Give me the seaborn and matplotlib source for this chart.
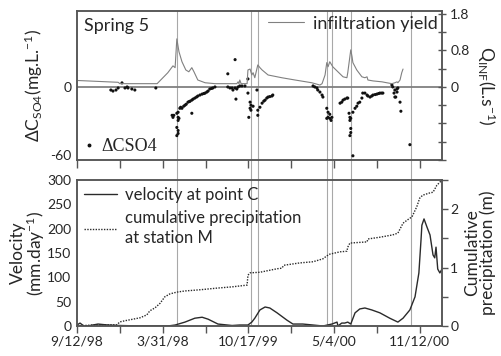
import numpy as np
import pandas as pd
import matplotlib
matplotlib.use("Agg")
import matplotlib.pyplot as plt
import seaborn as sns
from matplotlib.lines import Line2D

sns.set_style("ticks")
plt.rcParams["font.family"] = ["Lato", "DejaVu Sans"]
plt.rcParams["mathtext.fontset"] = "custom"
plt.rcParams["mathtext.rm"] = "Lato"
plt.rcParams["mathtext.it"] = "Lato:italic"

# ---------------- data (x = days since 9/12/98) ----------------
x_tick_days = [0, 100, 200, 300, 400, 500, 600, 700, 800]
x_tick_labels = ["9/12/98", "", "3/31/98", "", "10/17/99", "", "5/4/00", "", "11/12/00"]
event_days = [233, 406, 422, 583, 595, 639, 779]

infil_days = [0, 96, 100, 187, 212, 224, 229, 233, 238, 245, 254, 261, 268, 273, 282, 299, 322,
              373, 376, 378, 380, 383, 397, 399, 404, 408, 411, 415, 422, 427, 432, 446, 478, 509,
              548, 567, 572, 579, 583, 586, 590, 597, 609, 621, 630, 632, 639, 642, 644, 653, 665,
              672, 677, 679, 691, 712, 723, 735, 742, 747, 749, 754, 758, 761]
infil_q = [0.14, 0.10, 0.07, 0.07, 0.31, 0.46, 0.42, 1.05, 0.77, 0.55, 0.37, 0.33, 0.42, 0.33, 0.15,
           0.09, 0.07, 0.07, 0.11, 0.07, 0.15, 0.07, 0.07, 0.37, 0.39, 0.26, 0.31, 0.20, 0.48, 0.42,
           0.37, 0.26, 0.20, 0.15, 0.09, 0.04, 0.07, 0.26, 0.53, 0.44, 0.55, 0.44, 0.33, 0.22, 0.20,
           0.31, 0.81, 0.66, 0.53, 0.37, 0.22, 0.20, 0.22, 0.15, 0.13, 0.11, 0.09, 0.07, 0.09, 0.11,
           0.09, 0.15, 0.31, 0.39]

dc_days = [79, 84, 91, 96, 105, 112, 117, 119, 128, 135, 184,
           222, 224, 226, 233, 236, 236, 236, 238, 240, 242, 245, 249, 252, 255, 259, 262, 264, 268,
           271, 275, 279, 282, 287, 292, 296, 299, 303, 306, 310, 314, 317, 322,
           233, 236, 233, 236, 268,
           352, 357, 362, 364, 369, 373, 376, 380, 385, 392,
           369, 352, 371, 399, 399, 420,
           404, 406, 404, 401, 411, 406, 422, 422, 427, 432, 436, 439, 443, 446, 450, 455, 457,
           551, 555, 560, 562, 567, 572, 574,
           583, 586, 590, 586, 595, 583, 593, 590,
           614, 618, 621, 625, 630, 632,
           635, 637, 639, 637, 639, 639, 637, 644,
           644, 649, 653, 656, 660, 665, 667, 672, 677, 679, 684, 688, 691, 696, 700, 704, 707, 711, 714,
           735, 737, 742, 740, 747, 749, 747, 744, 742, 754, 756,
           777]
dc_vals = [-2.7, -3.6, -2.7, -0.9, 3.6, -0.9, 0.0, -0.9, -1.8, -2.7, -0.9,
           -25.0, -26.8, -25.0, -23.2, -22.3, -26.8, -29.5, -27.7, -18.8, -17.9, -18.8, -17.0, -16.1,
           -15.2, -13.4, -12.9, -12.5, -11.6, -10.7, -9.8, -8.9, -8.0, -7.1, -6.3, -5.8, -5.4, -4.5,
           -3.6, -1.8, -1.3, -0.9, 0.0,
           -35.7, -38.4, -42.9, -41.0, -23.2,
           0.0, -0.9, -0.9, -2.7, -0.9, -1.8, 0.0, 0.9, 0.9, 0.9,
           24.1, 11.6, -10.7, 7.1, -5.4, -2.7,
           -13.4, -16.1, -18.8, -26.8, -17.0, -20.5, -25.0, -20.5, -17.9, -14.3, -12.5, -11.6, -9.8,
           -8.9, -8.5, -8.0, -7.1,
           0.9, 0.0, -0.9, -2.7, -4.5, -7.1, -8.9,
           -18.8, -22.3, -24.1, -26.8, -26.8, -27.7, -29.5, -27.7,
           -14.3, -13.4, -11.6, -10.7, -9.8, -9.8,
           -23.2, -26.8, -27.7, -29.5, -36.6, -40.2, -42.9, -60.7,
           -22.3, -18.8, -17.0, -14.3, -13.4, -9.8, -5.4, -5.4, -7.1, -8.0, -8.9, -8.0, -7.1, -6.7,
           -6.3, -5.8, -5.4, -5.4, -5.4,
           1.8, 0.0, -2.7, -5.4, -4.5, -0.9, -1.8, -8.9, -8.9, -13.4, -21.4,
           -50.9]

vel_days = [0, 7, 16, 26, 37, 49, 72, 100, 152, 212, 229, 252, 275, 292, 306, 329, 362, 380, 399,
            408, 415, 427, 439, 450, 467, 490, 504, 527, 551, 574, 595, 607, 609, 618, 625, 632, 639,
            649, 660, 672, 688, 707, 730, 749, 761, 777, 789, 798, 803, 805, 810, 817, 824, 831, 835,
            838, 842, 847, 852]
vel_vals = [2, 6, 0, 0, 2, 4, 2, 1, 0, 0, 2, 8, 16, 18, 14, 4, 1, 2, 2, 8, 16, 33, 39, 37, 27, 12, 4,
            4, 2, 0, 4, 8, 0, 6, 6, 8, 4, 27, 35, 37, 33, 27, 16, 8, 16, 33, 60, 109, 177, 207, 220,
            203, 187, 146, 140, 162, 117, 109, 117]

prec_days = [0, 42, 61, 93, 100, 112, 147, 163, 170, 182, 194, 205, 217, 233, 252, 287, 329, 362, 397,
             399, 404, 427, 467, 478, 483, 520, 551, 574, 583, 590, 614, 630, 632, 637, 677, 679, 707,
             737, 749, 761, 772, 782, 793, 800, 807, 824, 831, 840, 852]
prec_vals = [0.00, 0.02, 0.02, 0.02, 0.07, 0.09, 0.14, 0.19, 0.26, 0.31, 0.39, 0.50, 0.55, 0.58,
             0.60, 0.62, 0.65, 0.67, 0.70, 0.87, 0.91, 0.92, 0.98, 0.99, 1.04, 1.08, 1.10, 1.15, 1.20,
             1.23, 1.27, 1.28, 1.35, 1.42, 1.44, 1.49, 1.52, 1.56, 1.59, 1.76, 1.82, 1.87, 2.04, 2.19,
             2.24, 2.28, 2.29, 2.41, 2.50]

infil_df = pd.DataFrame({"day": infil_days, "q": infil_q})
dc_df = pd.DataFrame({"day": dc_days, "dc": dc_vals})
vel_df = pd.DataFrame({"day": vel_days, "v": vel_vals})
prec_df = pd.DataFrame({"day": prec_days, "p": prec_vals})

# ---------------- figure ----------------
fig = plt.figure(figsize=(5.02, 3.56), dpi=100)
ax1 = fig.add_axes([0.1534, 0.5506, 0.7271, 0.4185])
ax2 = fig.add_axes([0.1534, 0.0843, 0.7271, 0.4101])
ax1r = ax1.twinx()
ax2r = ax2.twinx()

vcol = "#a8a8a8"
spine_col = "#555555"
tick_fs = 10

xlim = (0, 852)
for ax in (ax1, ax2, ax1r, ax2r):
    ax.set_xlim(*xlim)
    for s in ax.spines.values():
        s.set_color(spine_col)
        s.set_linewidth(1.1)

for d in event_days:
    ax1.axvline(d, ymin=-0.135, ymax=1, clip_on=False, color=vcol, lw=0.8, zorder=0)
    ax2.axvline(d, color=vcol, lw=0.8, zorder=0)

# ---- top panel ----
ax1.axhline(0, color="#808080", lw=1.3, zorder=1)
sns.scatterplot(data=dc_df, x="day", y="dc", ax=ax1, color="#111111", s=5, marker="o",
                edgecolor="none", zorder=3, legend=False)
ax1.set_ylim(-64.4, 67.0)
ax1.set_yticks([-60, 0])
ax1.set_yticklabels(["-60", "0"])
ax1.set_xticks(x_tick_days)
ax1.set_xticklabels([])
ax1.tick_params(axis="y", length=0, labelsize=tick_fs, pad=4)
ax1.tick_params(axis="x", direction="out", length=6, width=1, color=spine_col)
ax1.set_xlabel("")
ax1.set_ylabel("ΔC$_{\\mathrm{SO4}}$(mg.L.$^{-1}$)", fontsize=12.5, labelpad=4)

sns.lineplot(data=infil_df, x="day", y="q", ax=ax1r, color="#808080", lw=0.8,
             estimator=None, sort=False, legend=False)
ax1r.set_ylim(-1.6, 1.66)
q_ticks = [-1.6, -1.2, -0.8, -0.4, 0.0, 0.4, 0.8, 1.2, 1.6]
ax1r.set_yticks(q_ticks)
ax1r.set_yticklabels(["", "", "", "", "0", "", "0.8", "", "1.8"])
ax1r.tick_params(axis="y", direction="inout", length=6, width=1, color=spine_col,
                 labelsize=tick_fs, pad=3)
ax1r.set_xlabel("")
ax1r.set_ylabel("Q$_{\\mathrm{INF}}$(L.s$^{-1}$)", fontsize=12.5, rotation=-90, labelpad=20)

ax1.text(0.02, 0.95, "Spring 5", transform=ax1.transAxes, ha="left", va="top", fontsize=13)

ax1r.legend(handles=[Line2D([], [], color="#808080", lw=0.8)], labels=["infiltration yield"],
            loc="upper right", frameon=False, fontsize=13, handlelength=2.0,
            handletextpad=0.5, borderaxespad=0.15, borderpad=0.1)
ax1.legend(handles=[Line2D([], [], marker="o", ls="", color="#111111", ms=1.8)], labels=["ΔCSO4"],
           loc="lower left", frameon=False, prop={"family": "Liberation Serif", "size": 13},
           handlelength=0.8, handletextpad=0.3, borderaxespad=0.15, borderpad=0.1)

# ---- bottom panel ----
sns.lineplot(data=vel_df, x="day", y="v", ax=ax2, color="#2a2a2a", lw=1.0,
             estimator=None, sort=False, legend=False)
ax2.set_ylim(0, 300)
ax2.set_yticks([0, 50, 100, 150, 200, 250, 300])
ax2.set_xticks(x_tick_days)
ax2.set_xticklabels(x_tick_labels)
ax2.tick_params(axis="y", length=0, labelsize=tick_fs, pad=4)
ax2.tick_params(axis="x", direction="out", length=5, width=1, color=spine_col,
                labelsize=tick_fs, pad=2)
ax2.set_xlabel("")
ax2.set_ylabel("Velocity\n(mm.day$^{-1}$)", fontsize=12.5, labelpad=0, linespacing=0.95)

sns.lineplot(data=prec_df, x="day", y="p", ax=ax2r, color="#2a2a2a", lw=1.0,
             estimator=None, sort=False, legend=False)
for ln in ax2r.get_lines():
    ln.set_linestyle((0, (1, 1)))
ax2r.set_ylim(0, 2.5)
ax2r.set_yticks([0, 0.5, 1, 1.5, 2, 2.5])
ax2r.set_yticklabels(["0", "", "1", "", "2", ""])
ax2r.tick_params(axis="y", direction="out", length=4, width=1, color=spine_col,
                 labelsize=tick_fs, pad=2)
ax2r.set_xlabel("")
ax2r.set_ylabel("Cumulative\nprecipitation (m)", fontsize=12.5, rotation=90, labelpad=4,
                linespacing=0.95)

leg = ax2r.legend(handles=[Line2D([], [], color="#2a2a2a", lw=1.0),
                           Line2D([], [], color="#2a2a2a", lw=1.0, ls=(0, (1, 1)))],
                  labels=["velocity at point C", "cumulative precipitation\nat station M"],
                  loc="upper left", frameon=False, fontsize=12, handlelength=2.0,
                  handletextpad=0.5, labelspacing=0.45, borderaxespad=0.2, borderpad=0.2)
for t in leg.get_texts():
    t.set_linespacing(1.3)

fig.savefig("out.png", dpi=100)
